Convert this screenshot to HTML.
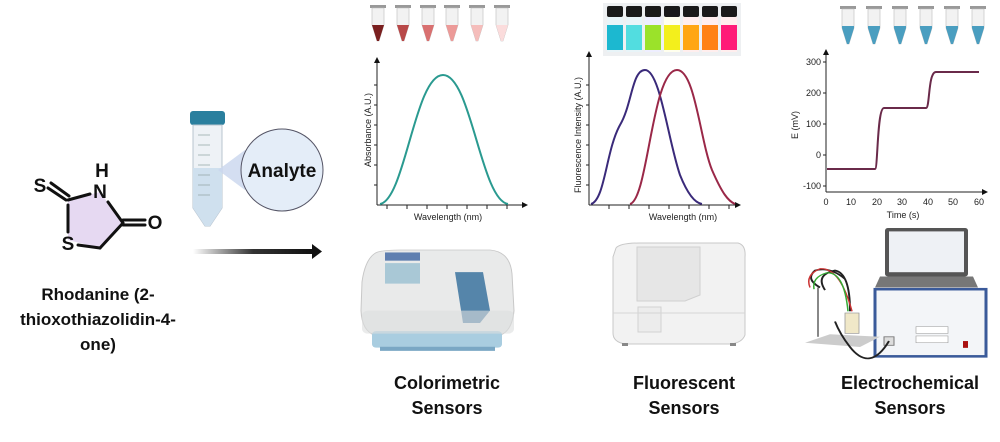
<!DOCTYPE html>
<html><head><meta charset="utf-8"><style>
html,body{margin:0;padding:0;background:#fff;width:1000px;height:442px;overflow:hidden}
svg{display:block}
text{font-family:"Liberation Sans",sans-serif}
</style></head><body>
<svg width="1000" height="442" viewBox="0 0 1000 442" xmlns="http://www.w3.org/2000/svg">
<defs>
<linearGradient id="ag" x1="0" x2="1"><stop offset="0" stop-color="#fff"/><stop offset="0.5" stop-color="#333"/><stop offset="1" stop-color="#111"/></linearGradient>
<marker id="ah" markerWidth="6" markerHeight="6" refX="5" refY="3" orient="auto"><path d="M0,0L6,3L0,6z" fill="#111"/></marker>
</defs>
<!-- molecule -->
<polygon points="68,200 100,192 123,223 100,248 68,240" fill="#e6d9f2"/>
<g stroke="#111" stroke-width="3" fill="none" stroke-linecap="round">
<line x1="68" y1="205" x2="68" y2="232"/>
<line x1="68" y1="200" x2="90" y2="194"/>
<line x1="108" y1="202" x2="123" y2="223"/>
<line x1="123" y1="223" x2="100" y2="248"/>
<line x1="100" y1="248" x2="78" y2="245"/>
<line x1="48" y1="188" x2="66" y2="200"/><line x1="51" y1="183" x2="69" y2="196"/>
<line x1="123" y1="220" x2="145" y2="220"/><line x1="123" y1="225" x2="145" y2="225"/>
</g>
<g font-weight="bold" font-size="19" fill="#111" text-anchor="middle">
<text x="40" y="192">S</text><text x="102" y="177">H</text><text x="100" y="198">N</text>
<text x="155" y="229">O</text><text x="68" y="250">S</text>
</g>
<g font-weight="bold" font-size="17" fill="#111" text-anchor="middle">
<text x="98" y="300">Rhodanine (2-</text><text x="98" y="325">thioxothiazolidin-4-</text><text x="98" y="350">one)</text>
</g>
<!-- tube -->
<rect x="190" y="111" width="35" height="14" rx="3" fill="#2a7f9e"/>
<path d="M193,125 H222 V208 L210,226 H205 L193,208Z" fill="#eef2f6" stroke="#b8c4cf"/>
<path d="M193,168 H222 V208 L210,226 H205 L193,208Z" fill="#cfe0ee"/>
<g stroke="#9aa" stroke-width="0.8"><line x1="198" y1="135" x2="210" y2="135"/><line x1="198" y1="145" x2="210" y2="145"/><line x1="198" y1="155" x2="210" y2="155"/><line x1="198" y1="165" x2="210" y2="165"/><line x1="198" y1="175" x2="210" y2="175"/><line x1="198" y1="185" x2="210" y2="185"/><line x1="198" y1="195" x2="210" y2="195"/></g>
<polygon points="218,170 245,150 245,190" fill="#c9d6ee" opacity="0.8"/>
<circle cx="282" cy="170" r="41" fill="#e4edf8" stroke="#556" stroke-width="1"/>
<text x="282" y="177" font-size="19" font-weight="bold" text-anchor="middle" fill="#111">Analyte</text>
<!-- arrow -->
<rect x="193" y="249" width="120" height="5" fill="url(#ag)"/>
<polygon points="312,244 322,251.5 312,259" fill="#111"/>
<!-- colorimetric tubes -->
<g>
<g transform="translate(378,5)"><rect x="-8" y="0" width="16" height="3" fill="#999"/><path d="M-6,3H6V20L1,36H-1L-6,20Z" fill="#f2f2f2" stroke="#bbb" stroke-width="0.6"/><path d="M-6,20H6L1,36H-1Z" fill="#7a1f1f"/></g>
<g transform="translate(403,5)"><rect x="-8" y="0" width="16" height="3" fill="#999"/><path d="M-6,3H6V20L1,36H-1L-6,20Z" fill="#f2f2f2" stroke="#bbb" stroke-width="0.6"/><path d="M-6,20H6L1,36H-1Z" fill="#b84848"/></g>
<g transform="translate(428,5)"><rect x="-8" y="0" width="16" height="3" fill="#999"/><path d="M-6,3H6V20L1,36H-1L-6,20Z" fill="#f2f2f2" stroke="#bbb" stroke-width="0.6"/><path d="M-6,20H6L1,36H-1Z" fill="#d97070"/></g>
<g transform="translate(452,5)"><rect x="-8" y="0" width="16" height="3" fill="#999"/><path d="M-6,3H6V20L1,36H-1L-6,20Z" fill="#f2f2f2" stroke="#bbb" stroke-width="0.6"/><path d="M-6,20H6L1,36H-1Z" fill="#ec9a98"/></g>
<g transform="translate(477,5)"><rect x="-8" y="0" width="16" height="3" fill="#999"/><path d="M-6,3H6V20L1,36H-1L-6,20Z" fill="#f2f2f2" stroke="#bbb" stroke-width="0.6"/><path d="M-6,20H6L1,36H-1Z" fill="#f5bdbb"/></g>
<g transform="translate(502,5)"><rect x="-8" y="0" width="16" height="3" fill="#999"/><path d="M-6,3H6V20L1,36H-1L-6,20Z" fill="#f2f2f2" stroke="#bbb" stroke-width="0.6"/><path d="M-6,20H6L1,36H-1Z" fill="#fbdcdc"/></g>
</g>
<!-- colorimetric plot -->
<g stroke="#222" stroke-width="1" fill="none">
<line x1="377" y1="205" x2="377" y2="58" marker-end="url(#ah)"/>
<line x1="377" y1="205" x2="527" y2="205" marker-end="url(#ah)"/>
<path d="M387,205v4M407,205v4M427,205v4M447,205v4M467,205v4M487,205v4M507,205v4M377,185h-3M377,165h-3M377,145h-3M377,125h-3M377,105h-3M377,85h-3"/>
</g>
<path d="M380,204 C405,200 415,75 443,75 C471,75 481,200 508,204" stroke="#2a9a90" stroke-width="2" fill="none"/>
<text x="448" y="220" font-size="9" text-anchor="middle" fill="#222">Wavelength (nm)</text>
<text transform="translate(371,130) rotate(-90)" font-size="9" text-anchor="middle" fill="#222">Absorbance (A.U.)</text>
<!-- vials -->
<rect x="603" y="3" width="138" height="53" fill="#eef0f2"/>
<g>
<rect x="607" y="6" width="16" height="11" rx="2" fill="#1a1a1a"/><rect x="607" y="17" width="16" height="35" fill="#e8f4f8"/><rect x="607" y="25" width="16" height="25" fill="#1cb8d0"/>
<rect x="626" y="6" width="16" height="11" rx="2" fill="#1a1a1a"/><rect x="626" y="17" width="16" height="35" fill="#e8f4f8"/><rect x="626" y="25" width="16" height="25" fill="#52dde0"/>
<rect x="645" y="6" width="16" height="11" rx="2" fill="#1a1a1a"/><rect x="645" y="17" width="16" height="35" fill="#eef"/><rect x="645" y="25" width="16" height="25" fill="#9be22a"/>
<rect x="664" y="6" width="16" height="11" rx="2" fill="#1a1a1a"/><rect x="664" y="17" width="16" height="35" fill="#ffe"/><rect x="664" y="25" width="16" height="25" fill="#f3ef1c"/>
<rect x="683" y="6" width="16" height="11" rx="2" fill="#1a1a1a"/><rect x="683" y="17" width="16" height="35" fill="#fee"/><rect x="683" y="25" width="16" height="25" fill="#ffa614"/>
<rect x="702" y="6" width="16" height="11" rx="2" fill="#1a1a1a"/><rect x="702" y="17" width="16" height="35" fill="#fee"/><rect x="702" y="25" width="16" height="25" fill="#ff8214"/>
<rect x="721" y="6" width="16" height="11" rx="2" fill="#1a1a1a"/><rect x="721" y="17" width="16" height="35" fill="#fee"/><rect x="721" y="25" width="16" height="25" fill="#ff1a78"/>
</g>
<!-- fluorescence plot -->
<g stroke="#222" stroke-width="1" fill="none">
<line x1="589" y1="205" x2="589" y2="52" marker-end="url(#ah)"/>
<line x1="589" y1="205" x2="740" y2="205" marker-end="url(#ah)"/>
<path d="M609,205v4M629,205v4M649,205v4M669,205v4M689,205v4M709,205v4M729,205v4M589,185h-3M589,165h-3M589,145h-3M589,125h-3M589,105h-3M589,85h-3"/>
</g>
<path d="M591,204 C605,200 606,150 620,125 C632,105 632,70 645,70 C660,70 668,140 680,175 C688,195 695,203 702,204" stroke="#3a2a7a" stroke-width="2" fill="none"/>
<path d="M630,204 C648,200 652,70 677,70 C695,70 700,140 712,170 C722,193 728,201 735,204" stroke="#9a2848" stroke-width="2" fill="none"/>
<text x="683" y="220" font-size="9" text-anchor="middle" fill="#222">Wavelength (nm)</text>
<text transform="translate(581,135) rotate(-90)" font-size="9" text-anchor="middle" fill="#222">Fluorescence Intensity (A.U.)</text>
<!-- blue tubes -->
<g>
<g transform="translate(848,6)"><rect x="-8" y="0" width="16" height="3" fill="#999"/><path d="M-6,3H6V22L1,38H-1L-6,22Z" fill="#f2f2f2" stroke="#bbb" stroke-width="0.6"/><path d="M-6,20H6V22L1,38H-1L-6,22Z" fill="#4a9ec0"/></g>
<g transform="translate(874,6)"><rect x="-8" y="0" width="16" height="3" fill="#999"/><path d="M-6,3H6V22L1,38H-1L-6,22Z" fill="#f2f2f2" stroke="#bbb" stroke-width="0.6"/><path d="M-6,20H6V22L1,38H-1L-6,22Z" fill="#4a9ec0"/></g>
<g transform="translate(900,6)"><rect x="-8" y="0" width="16" height="3" fill="#999"/><path d="M-6,3H6V22L1,38H-1L-6,22Z" fill="#f2f2f2" stroke="#bbb" stroke-width="0.6"/><path d="M-6,20H6V22L1,38H-1L-6,22Z" fill="#4a9ec0"/></g>
<g transform="translate(926,6)"><rect x="-8" y="0" width="16" height="3" fill="#999"/><path d="M-6,3H6V22L1,38H-1L-6,22Z" fill="#f2f2f2" stroke="#bbb" stroke-width="0.6"/><path d="M-6,20H6V22L1,38H-1L-6,22Z" fill="#4a9ec0"/></g>
<g transform="translate(952,6)"><rect x="-8" y="0" width="16" height="3" fill="#999"/><path d="M-6,3H6V22L1,38H-1L-6,22Z" fill="#f2f2f2" stroke="#bbb" stroke-width="0.6"/><path d="M-6,20H6V22L1,38H-1L-6,22Z" fill="#4a9ec0"/></g>
<g transform="translate(978,6)"><rect x="-8" y="0" width="16" height="3" fill="#999"/><path d="M-6,3H6V22L1,38H-1L-6,22Z" fill="#f2f2f2" stroke="#bbb" stroke-width="0.6"/><path d="M-6,20H6V22L1,38H-1L-6,22Z" fill="#4a9ec0"/></g>
</g>
<!-- electrochem plot -->
<g stroke="#222" stroke-width="1" fill="none">
<line x1="826" y1="192" x2="826" y2="50" marker-end="url(#ah)"/>
<line x1="826" y1="192" x2="987" y2="192" marker-end="url(#ah)"/>
<path d="M826,62h-3M826,93h-3M826,124h-3M826,155h-3M826,186h-3"/>
</g>
<path d="M827,169 H875 C878,169 877,108 884,108 H926 C930,108 928,72 936,72 H979" stroke="#6a2a4a" stroke-width="2" fill="none"/>
<g font-size="9" fill="#222" text-anchor="end">
<text x="821" y="65">300</text><text x="821" y="96">200</text><text x="821" y="127">100</text><text x="821" y="158">0</text><text x="821" y="189">-100</text>
</g>
<g font-size="9" fill="#222" text-anchor="middle">
<text x="826" y="205">0</text><text x="851" y="205">10</text><text x="877" y="205">20</text><text x="902" y="205">30</text><text x="928" y="205">40</text><text x="953" y="205">50</text><text x="979" y="205">60</text>
<text x="903" y="218">Time (s)</text>
</g>
<text transform="translate(798,125) rotate(-90)" font-size="9" text-anchor="middle" fill="#222">E (mV)</text>
<!-- spectrophotometer -->
<g transform="translate(0,250) scale(1,0.82) translate(0,-256)">
<path d="M375,260 Q380,256 400,256 H490 Q510,258 512,285 L514,330 Q512,355 500,360 H375 Q362,355 361,330 L362,295 Q365,268 375,260Z" fill="#e9eaea" stroke="#c8c8c8"/>
<rect x="372" y="355" width="130" height="20" rx="4" fill="#a9cde0"/>
<rect x="380" y="374" width="115" height="5" fill="#7aa7c4"/>
<rect x="385" y="259" width="35" height="10" fill="#5f7fb0"/>
<rect x="385" y="272" width="35" height="25" fill="#a9c8d6"/>
<path d="M455,283 H483 L490,330 L480,345 H463 Z" fill="#5585aa"/>
<rect x="362" y="330" width="152" height="28" rx="6" fill="#dcdddd" opacity="0.6"/>
</g>
<!-- fluorometer -->
<g transform="translate(0,-5)">
<path d="M616,253 Q620,248 640,248 H738 Q746,250 745,262 V340 Q742,348 730,349 H625 Q613,347 613,338 V262Z" fill="#f2f2f2" stroke="#c8c8c8"/>
<path d="M637,252 H700 V300 L685,306 H637Z" fill="#e6e6e6" stroke="#d0d0d0"/>
<rect x="638" y="312" width="23" height="25" fill="#ececec" stroke="#d2d2d2"/>
<line x1="613" y1="318" x2="745" y2="318" stroke="#d5d5d5"/>
<rect x="622" y="348" width="6" height="3" fill="#888"/><rect x="730" y="348" width="6" height="3" fill="#888"/>
</g>
<!-- electrochem workstation -->
<g transform="translate(0,228) scale(1,0.85) translate(0,-230)">
<rect x="885" y="230" width="83" height="57" rx="3" fill="#555"/>
<rect x="889" y="234" width="75" height="48" fill="#eef1f5"/>
<path d="M880,287 H973 L978,300 H875Z" fill="#777"/>
<rect x="875" y="302" width="111" height="79" fill="#f3f5f8" stroke="#3a5a9a" stroke-width="3"/>
<rect x="916" y="346" width="32" height="8" fill="#fff" stroke="#999" stroke-width="0.6"/>
<rect x="916" y="357" width="32" height="8" fill="#fff" stroke="#999" stroke-width="0.6"/>
<rect x="963" y="363" width="5" height="8" fill="#a11"/>
<rect x="884" y="358" width="10" height="10" fill="#ddd" stroke="#777"/>
<path d="M805,365 L830,355 L880,358 L860,370Z" fill="#ccc"/>
<line x1="818" y1="300" x2="818" y2="358" stroke="#888" stroke-width="2"/>
<rect x="845" y="330" width="14" height="24" fill="#f0e8c8" stroke="#999" stroke-width="0.8"/>
<path d="M820,300 Q805,290 815,280 Q830,275 845,290 M825,303 Q815,285 835,280 Q850,283 850,328 M889,363 Q870,400 850,370 Q840,355 835,340" stroke="#222" stroke-width="2" fill="none"/>
<path d="M810,300 Q805,285 820,278 Q840,276 852,328" stroke="#c33" stroke-width="1.5" fill="none"/>
<path d="M814,302 Q812,288 826,283 Q844,280 848,328" stroke="#3a3" stroke-width="1.5" fill="none"/>
</g>
<!-- labels -->
<g font-weight="bold" font-size="18" fill="#111" text-anchor="middle">
<text x="447" y="389">Colorimetric</text><text x="447" y="414">Sensors</text>
<text x="684" y="389">Fluorescent</text><text x="684" y="414">Sensors</text>
<text x="910" y="389">Electrochemical</text><text x="910" y="414">Sensors</text>
</g>
</svg>
</body></html>
